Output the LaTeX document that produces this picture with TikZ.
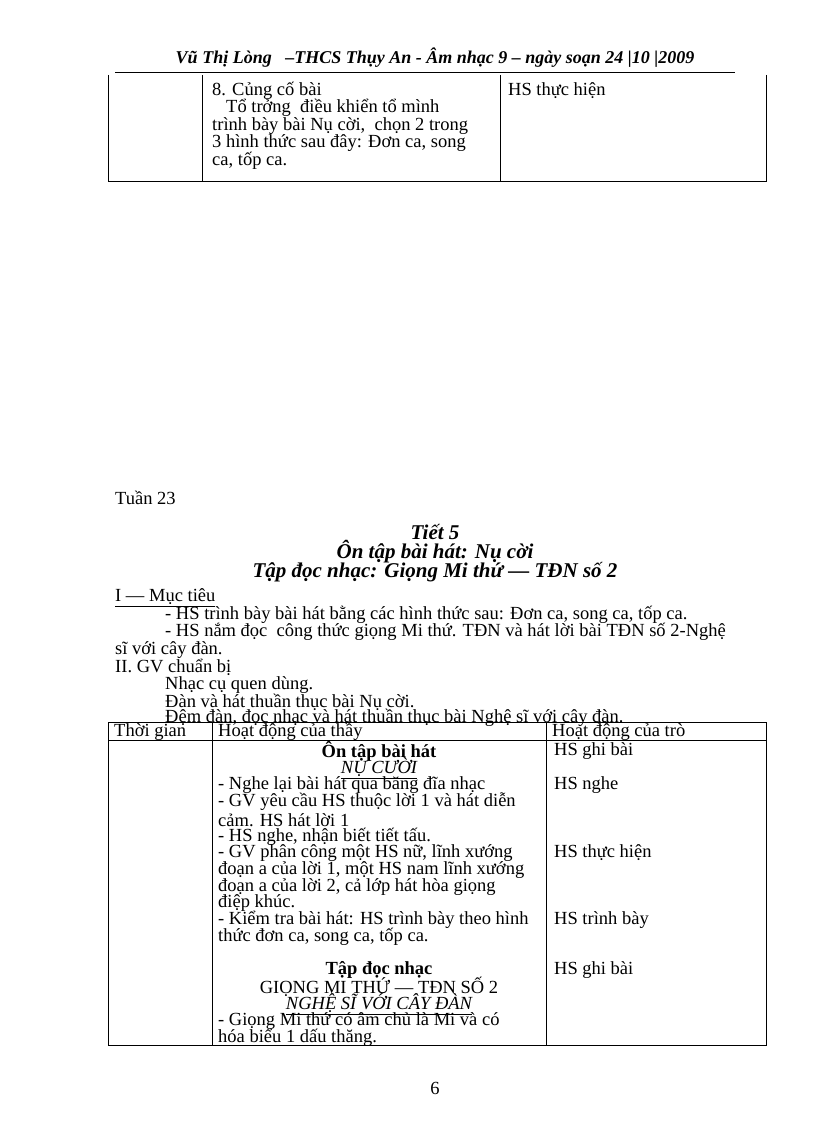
\documentclass[tikz,border=0pt]{standalone}
\usepackage{fontspec}
\setmainfont{Liberation Serif}
\begin{document}
\begin{tikzpicture}[x=1pt,y=-1pt,
 t/.style={anchor=west,inner sep=0pt,font=\fontsize{18.5}{18.5}\selectfont},
 c/.style={anchor=center,inner sep=0pt,font=\fontsize{18.5}{18.5}\selectfont},
 ln/.style={line width=1pt}]
\useasboundingbox[fill=white] (0,0) rectangle (816,1123);
\node[c,font=\fontsize{18}{18}\selectfont\bfseries\itshape] (hd) at (435,58) {Vũ Thị Lòng \ \ –THCS Thụy An - Âm nhạc 9 – ngày soạn 24 |10 |2009};
\coordinate (h1) at (115,72); \coordinate (h2) at (735,72);
\draw[line width=0.8pt] (h1) -- (h2);
% top table
\draw[ln] (108,75) -- (108,182) (202,75) -- (202,182) (500,75) -- (500,182) (766,75) -- (766,182) (108,182) -- (766,182);
\node[t] (a1) at (212,91) {8. Củng cố bài};
\node[t] (a2) at (212,108) {\hspace{14pt}Tổ trởng \ điều khiển tổ mình};
\node[t] (a3) at (212,126) {trình bày bài Nụ cời, \ chọn 2 trong};
\node[t] (a4) at (212,143) {3 hình thức sau đây: Đơn ca, song};
\node[t] (a5) at (212,161) {ca, tốp ca.};
\node[t] (a6) at (508,91) {HS thực hiện};
\node[t] (tu) at (115,498) {Tuần 23};
\node[c,font=\fontsize{21}{21}\selectfont\bfseries\itshape] (ti1) at (435,532) {Tiết 5};
\node[c,font=\fontsize{21}{21}\selectfont\bfseries\itshape] (ti2) at (435,552) {Ôn tập bài hát: Nụ cời};
\node[c,font=\fontsize{21}{21}\selectfont\bfseries\itshape] (ti3) at (435,572) {Tập đọc nhạc: Giọng Mi thứ — TĐN số 2};
\node[t] (m0) at (115,598) {\underline{I — Mục tiêu}};
\node[t] (m1) at (165,615) {- HS trình bày bài hát bằng các hình thức sau: Đơn ca, song ca, tốp ca.};
\node[t] (m2) at (165,632) {- HS nắm đọc \ công thức giọng Mi thứ. TĐN và hát lời bài TĐN số 2-Nghệ};
\node[t] (m3) at (115,650) {sĩ với cây đàn.};
\node[t] (m4) at (115,667) {II. GV chuẩn bị};
\node[t] (m5) at (165,685) {Nhạc cụ quen dùng.};
\node[t] (m6) at (165,702) {Đàn và hát thuần thục bài Nụ cời.};
\node[t] (m7) at (165,718) {Đệm đàn, đọc nhạc và hát thuần thục bài Nghệ sĩ với cây đàn.};
% lower table
\draw[ln] (108,722) rectangle (766,1045);
\draw[ln] (108,740) -- (766,740) (212,722) -- (212,1045) (546,722) -- (546,1045);
\node[t] (th1) at (114,732) {Thời gian};
\node[t] (th2) at (218,732) {Hoạt động của thầy};
\node[t] (th3) at (552,732) {Hoạt động của trò};
\node[c,font=\fontsize{18.5}{18.5}\selectfont\bfseries] (b1) at (379,751) {Ôn tập bài hát};
\node[c,font=\fontsize{18.5}{18.5}\selectfont\itshape] (b2) at (379,768) {\underline{NỤ CƯỜI}};
\node[t] (b3) at (218,785) {- Nghe lại bài hát qua băng đĩa nhạc};
\node[t] (b4) at (218,802) {- GV yêu cầu HS thuộc lời 1 và hát diễn};
\node[t] (b5) at (218,820) {cảm. HS hát lời 1};
\node[t] (b6) at (218,837) {- HS nghe, nhận biết tiết tấu.};
\node[t] (b7) at (218,853) {- GV phân công một HS nữ, lĩnh xướng};
\node[t] (b8) at (218,870) {đoạn a của lời 1, một HS nam lĩnh xướng};
\node[t] (b9) at (218,887) {đoạn a của lời 2, cả lớp hát hòa giọng};
\node[t] (b10) at (218,903) {điệp khúc.};
\node[t] (b11) at (218,920) {- Kiểm tra bài hát: HS trình bày theo hình};
\node[t] (b12) at (218,937) {thức đơn ca, song ca, tốp ca.};
\node[c,font=\fontsize{18.5}{18.5}\selectfont\bfseries] (b13) at (379,970) {Tập đọc nhạc};
\node[c] (b14) at (379,987) {GIỌNG MI THỨ — TĐN SỐ 2};
\node[c,font=\fontsize{18.5}{18.5}\selectfont\itshape] (b15) at (379,1004) {\underline{NGHỆ SĨ VỚI CÂY ĐÀN}};
\node[t] (b16) at (218,1021) {- Giọng Mi thứ có âm chủ là Mi và có};
\node[t] (b17) at (218,1038) {hóa biểu 1 dấu thăng.};
\node[t] (c1) at (554,751) {HS ghi bài};
\node[t] (c2) at (554,785) {HS nghe};
\node[t] (c3) at (554,853) {HS thực hiện};
\node[t] (c4) at (554,920) {HS trình bày};
\node[t] (c5) at (554,970) {HS ghi bài};
\node[c] (pg) at (435,1088) {6};
\end{tikzpicture}
\end{document}
